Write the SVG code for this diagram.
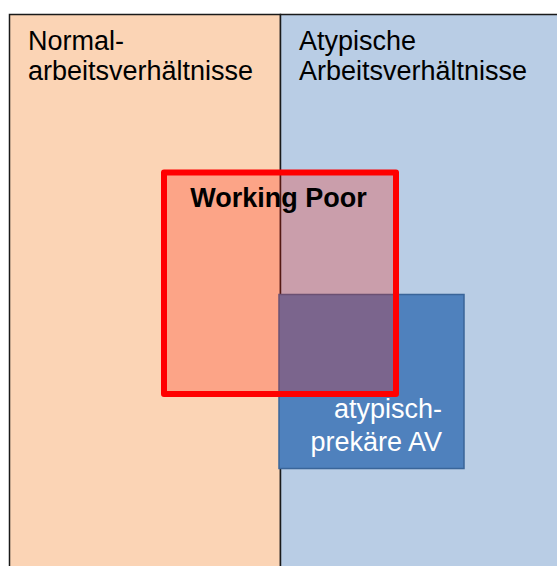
<svg xmlns="http://www.w3.org/2000/svg" width="557" height="566" viewBox="0 0 557 566">
  <style>
    .lbl { font-family: "Liberation Sans", Arial, sans-serif; font-size: 27px; fill: #000; }
    .bold { font-weight: bold; }
    .white { fill: #fff; }
  </style>
  <rect x="0" y="0" width="557" height="566" fill="#fff"/>
  <g id="normal">
    <rect x="9.5" y="14.5" width="271" height="560" fill="#FBD4B5" stroke="#1a1a1a" stroke-width="1.5"/>
    <text class="lbl" x="28" y="50">Normal-</text>
    <text class="lbl" x="28" y="80">arbeitsverhältnisse</text>
  </g>
  <g id="atypisch">
    <rect x="280.5" y="14.5" width="290" height="560" fill="#B9CDE5" stroke="#1a1a1a" stroke-width="1.5"/>
    <text class="lbl" x="299" y="50">Atypische</text>
    <text class="lbl" x="299" y="80">Arbeitsverhältnisse</text>
  </g>
  <g id="prekaer">
    <rect x="279" y="294.5" width="185" height="174" fill="#4F81BD" stroke="#3A6599" stroke-width="1.5"/>
    <text class="lbl white" x="442" y="418" text-anchor="end">atypisch-</text>
    <text class="lbl white" x="442" y="451" text-anchor="end">prekäre AV</text>
  </g>
  <g id="working-poor">
    <rect x="164" y="172.5" width="232" height="221.5" fill="#FF1400" fill-opacity="0.25" stroke="#FF0000" stroke-width="6" stroke-linejoin="round"/>
    <text class="lbl bold" x="278.5" y="207" text-anchor="middle">Working Poor</text>
  </g>
  <g id="connectors"></g>
</svg>
